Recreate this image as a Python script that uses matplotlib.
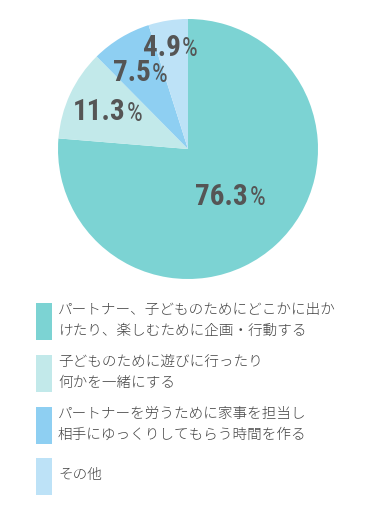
import numpy as np
import matplotlib.pyplot as plt
from matplotlib.patches import Rectangle

plt.rcParams['font.family'] = ['Noto Sans CJK JP', 'DejaVu Sans']

# data
values = [76.3, 11.3, 7.5, 4.9]
labels = [
    "パートナー、子どものためにどこかに出か\nけたり、楽しむために企画・行動する",
    "子どものために遊びに行ったり\n何かを一緒にする",
    "パートナーを労うために家事を担当し\n相手にゆっくりしてもらう時間を作る",
    "その他",
]
colors = ["#7cd3d3", "#c2e9ea", "#8ecff2", "#bde2f7"]
label_radius = [0.5, 0.67, 0.68, 0.79]

W, H = 380, 512
fig = plt.figure(figsize=(W / 100, H / 100), dpi=100)

# pie axes: center (188,149), radius 130 px
cx, cy, r = 188, 149, 130
ax = fig.add_axes([(cx - r) / W, 1 - (cy + r) / H, 2 * r / W, 2 * r / H])
wedges, _ = ax.pie(values, colors=colors, startangle=90, counterclock=False,
                   radius=1, wedgeprops=dict(linewidth=0))
ax.set_xlim(-1, 1)
ax.set_ylim(-1, 1)
ax.set_aspect('equal')
ax.axis('off')

txt_color = "#555555"
num_font = ['Roboto Condensed', 'Roboto', 'DejaVu Sans']
for w, v, rr in zip(wedges, values, label_radius):
    ang = np.deg2rad((w.theta1 + w.theta2) / 2)
    x, y = rr * np.cos(ang), rr * np.sin(ang)
    num = ax.text(x - 0.08, y, f"{v:.1f}", ha='center', va='center',
                  fontsize=21, fontweight='bold', color=txt_color,
                  family=num_font)
    ax.annotate("%", xy=(1, 0.45), xycoords=num, xytext=(1, 0),
                textcoords='offset points', ha='left', va='center',
                fontsize=18, color=txt_color, family=num_font)

# legend
box_tops = [303, 355, 407, 458]
box_h = 37
for top, lab, c in zip(box_tops, labels, colors):
    fig.patches.append(Rectangle((36 / W, 1 - (top + box_h) / H), 16 / W, box_h / H,
                                 transform=fig.transFigure, facecolor=c,
                                 edgecolor='none'))
    ty = top + box_h / 2 - 1
    fig.text(58 / W, 1 - ty / H, lab, ha='left', va='center', fontsize=10.5,
             color="#444444", linespacing=1.6, fontweight='light')

fig.savefig("out.png", dpi=100)
